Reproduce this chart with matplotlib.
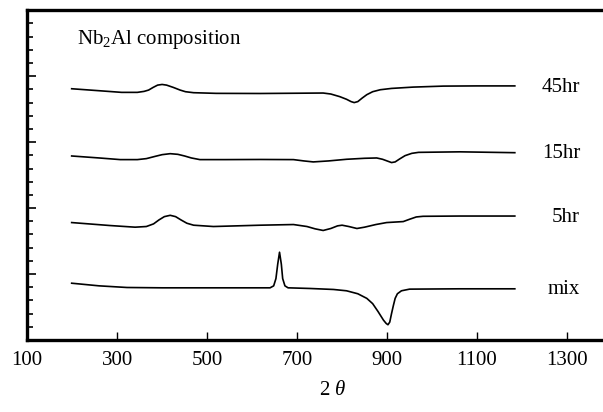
# DTA-style curves for Nb2Al composition after different milling times

import matplotlib
matplotlib.use("Agg")
import matplotlib.pyplot as plt
from matplotlib.ticker import MultipleLocator

plt.rcParams['font.family'] = ['Liberation Serif', 'DejaVu Serif']
plt.rcParams['mathtext.fontset'] = 'custom'
plt.rcParams['mathtext.rm'] = 'Liberation Serif'
plt.rcParams['mathtext.it'] = 'Liberation Serif:italic'

# values (x = 2 theta, y = arbitrary offset units)
x_45 = [199, 260, 310, 345, 360, 370, 380, 390, 400, 410, 425, 440, 452, 470, 520, 618, 700, 758,
        775, 795, 810, 820, 827, 835, 845, 855, 868, 885, 910, 958, 1025, 1100, 1184]
y_45 = [3.81, 3.78, 3.755, 3.755, 3.77, 3.79, 3.83, 3.865, 3.875, 3.865, 3.83, 3.79, 3.765, 3.75, 3.74, 3.738, 3.742, 3.745,
        3.73, 3.69, 3.65, 3.615, 3.60, 3.615, 3.67, 3.72, 3.765, 3.795, 3.815, 3.835, 3.85, 3.853, 3.853]

x_15 = [199, 260, 307, 345, 365, 385, 400, 418, 435, 450, 465, 484, 540, 618, 692, 715, 736, 770, 810, 850, 877,
        890, 900, 910, 918, 928, 940, 955, 970, 1062, 1184]
y_15 = [2.79, 2.76, 2.735, 2.735, 2.75, 2.785, 2.81, 2.825, 2.815, 2.79, 2.76, 2.735, 2.735, 2.737, 2.735, 2.715, 2.70, 2.715, 2.74, 2.755, 2.76,
        2.74, 2.715, 2.69, 2.70, 2.745, 2.795, 2.83, 2.845, 2.853, 2.84]

x_5 = [199, 284, 340, 365, 381, 393, 405, 418, 430, 442, 455, 470, 514, 618, 692, 722, 740, 758, 775, 790, 800,
       815, 833, 850, 875, 899, 936, 950, 965, 980, 1062, 1184]
y_5 = [1.78, 1.735, 1.71, 1.72, 1.76, 1.82, 1.87, 1.89, 1.87, 1.82, 1.77, 1.74, 1.72, 1.74, 1.75, 1.72, 1.685, 1.66, 1.69, 1.73, 1.74,
       1.72, 1.69, 1.71, 1.75, 1.78, 1.795, 1.83, 1.865, 1.875, 1.879, 1.879]

x_mix = [199, 260, 322, 400, 470, 560, 640, 648, 653, 657, 661, 665, 668, 673, 680, 729, 781, 810, 835, 855, 868,
         880, 892, 898, 902, 906, 910, 914, 918, 923, 932, 950, 1060, 1184]
y_mix = [0.86, 0.82, 0.795, 0.79, 0.79, 0.79, 0.79, 0.82, 0.93, 1.15, 1.33, 1.15, 0.93, 0.82, 0.79, 0.78, 0.765, 0.745, 0.70, 0.63, 0.55,
         0.43, 0.30, 0.25, 0.23, 0.27, 0.40, 0.52, 0.63, 0.70, 0.745, 0.77, 0.775, 0.775]

labels = ['45hr', '15hr', '5hr', 'mix']
label_y = [3.83, 2.83, 1.86, 0.76]

xticks = [100, 300, 500, 700, 900, 1100, 1300]

fig = plt.figure(figsize=(6.03, 4.12), dpi=100)
ax = fig.add_axes([0.045, 0.175, 0.955, 0.80])

for xs, ys in [(x_45, y_45), (x_15, y_15), (x_5, y_5), (x_mix, y_mix)]:
    ax.plot(xs, ys, color='black', lw=1.2)

for lab, yy in zip(labels, label_y):
    ax.text(1329, yy, lab, ha='right', va='center', fontsize=15)

ax.text(211, 4.55, r'Nb$_{\mathrm{2}}$Al composition', ha='left', va='center', fontsize=15)

ax.set_xlim(100, 1380)
ax.set_ylim(0, 5)
ax.set_xticks(xticks)
ax.set_xticklabels([str(t) for t in xticks], fontsize=15)
ax.yaxis.set_major_locator(MultipleLocator(1))
ax.yaxis.set_minor_locator(MultipleLocator(0.2))
ax.set_yticklabels([])
ax.tick_params(axis='x', direction='in', length=6, width=1, pad=8)
ax.tick_params(axis='y', which='major', direction='in', length=6.5, width=1.2)
ax.tick_params(axis='y', which='minor', direction='in', length=4, width=1.2)

for side in ['left', 'bottom', 'top']:
    ax.spines[side].set_linewidth(2.4)
ax.spines['right'].set_visible(False)

ax.set_xlabel(r'2 $\theta$', fontsize=15, labelpad=6)
ax.xaxis.set_label_coords(0.53, -0.125)

plt.savefig('out.png', dpi=100)
